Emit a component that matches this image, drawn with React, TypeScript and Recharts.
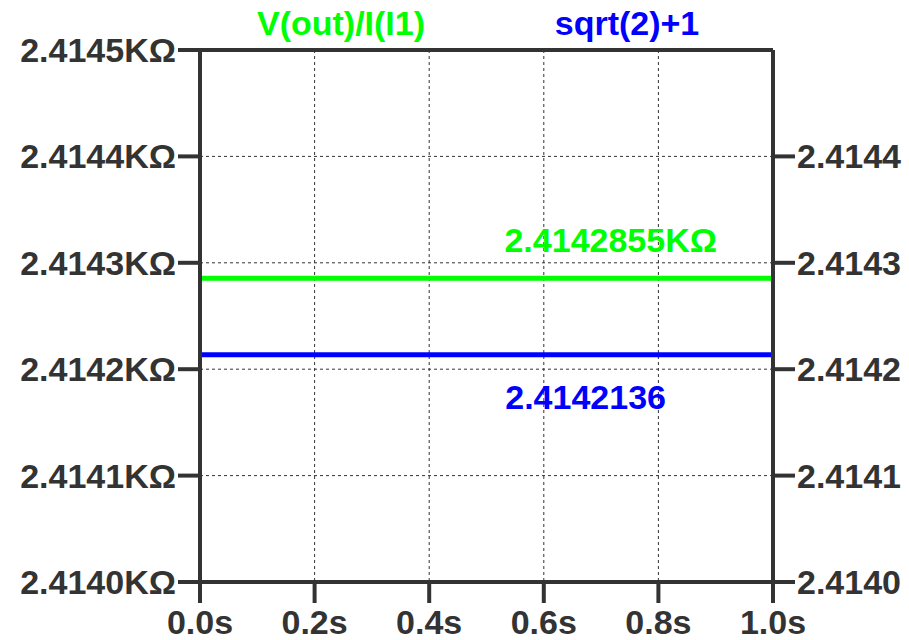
import React from "react";
import { LineChart, Line, XAxis, YAxis, CartesianGrid, ReferenceLine } from "recharts";

// time in seconds, values in KΩ
const times = [0, 1];
const voutOverI = [2.4142855, 2.4142855];
const sqrt2Plus1 = [2.4142136, 2.4142136];

const xTicks = [0, 0.2, 0.4, 0.6, 0.8, 1.0];
const leftTicks = [2.414, 2.4141, 2.4142, 2.4143, 2.4144, 2.4145];
const rightTicks = [2.414, 2.4141, 2.4142, 2.4143, 2.4144];

const data = times.map((t, i) => ({ t, vout: voutOverI[i], ref: sqrt2Plus1[i] }));

const FONT = "'Liberation Sans', Arial, sans-serif";
const INK = "#333333";
const GREEN = "#00ff00";
const BLUE = "#0000ff";

const tickStyle = { fill: INK, fontSize: 34, fontWeight: "bold", fontFamily: FONT };
const frame = { stroke: INK, strokeWidth: 4 };

const endLabel = (color: string, dx: number, dy: number, unit: string) => (props: any) => {
  if (props.index !== 1) return null;
  return (
    <text
      x={props.x + dx}
      y={props.y + dy}
      textAnchor="end"
      fill={color}
      fontSize={34}
      fontWeight="bold"
      fontFamily={FONT}
    >
      {Number(props.value).toFixed(7) + unit}
    </text>
  );
};

export default function App() {
  return (
    <div style={{ position: "absolute", left: 0, top: 0, width: 909, height: 640, background: "#fff" }}>
      <LineChart width={909} height={640} data={data} margin={{ top: 50, right: 0, bottom: 0, left: 0 }}>
        <CartesianGrid yAxisId="left" stroke={INK} strokeDasharray="3 3" strokeWidth={1} />
        <XAxis
          dataKey="t"
          type="number"
          domain={[0, 1]}
          ticks={xTicks}
          tickFormatter={(v: number) => v.toFixed(1) + "s"}
          height={58}
          tickSize={21}
          tickMargin={7}
          tick={tickStyle}
          axisLine={frame}
          tickLine={frame}
          interval={0}
        />
        <YAxis
          yAxisId="left"
          type="number"
          domain={[2.414, 2.4145]}
          ticks={leftTicks}
          tickFormatter={(v: number) => v.toFixed(4) + "KΩ"}
          width={200}
          tickSize={22}
          tick={tickStyle}
          axisLine={frame}
          tickLine={frame}
          interval={0}
        />
        <YAxis
          yAxisId="right"
          orientation="right"
          type="number"
          domain={[2.414, 2.4145]}
          ticks={rightTicks}
          tickFormatter={(v: number) => v.toFixed(4)}
          width={136}
          tickSize={22}
          tick={tickStyle}
          axisLine={frame}
          tickLine={frame}
          interval={0}
        />
        <ReferenceLine yAxisId="left" y={2.4145} stroke={INK} strokeWidth={4} />
        <Line
          yAxisId="left"
          dataKey="vout"
          stroke={GREEN}
          strokeWidth={5}
          dot={false}
          isAnimationActive={false}
          label={endLabel(GREEN, -56, -26, "KΩ")}
        />
        <Line
          yAxisId="right"
          dataKey="ref"
          stroke={BLUE}
          strokeWidth={5}
          dot={false}
          isAnimationActive={false}
          label={endLabel(BLUE, -107, 54, "")}
        />
      </LineChart>
      <svg width={909} height={640} style={{ position: "absolute", left: 0, top: 0, pointerEvents: "none" }}>
        <text x={341} y={35} textAnchor="middle" fill={GREEN} fontSize={34} fontWeight="bold" fontFamily={FONT}>
          V(out)/I(I1)
        </text>
        <text x={627} y={35} textAnchor="middle" fill={BLUE} fontSize={34} fontWeight="bold" fontFamily={FONT}>
          sqrt(2)+1
        </text>
      </svg>
    </div>
  );
}
